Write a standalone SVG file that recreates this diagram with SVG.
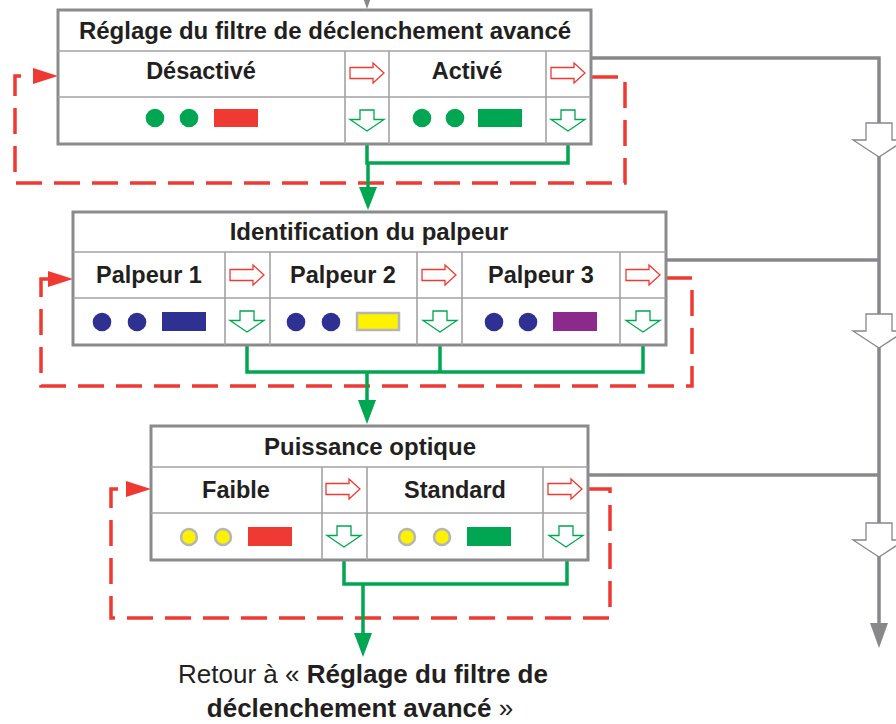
<svg xmlns="http://www.w3.org/2000/svg" width="896" height="724" viewBox="0 0 896 724">
  <style>
    .frame { fill: #ffffff; stroke: #8b8b8e; stroke-width: 3; }
    .grid { stroke: #a3a3a6; stroke-width: 1.6; fill: none; }
    .title { font-family: "Liberation Sans", Arial, sans-serif; font-weight: bold; font-size: 24px; fill: #231f20; text-anchor: middle; }
    .label { font-family: "Liberation Sans", Arial, sans-serif; font-weight: bold; font-size: 23.5px; fill: #231f20; text-anchor: middle; }
    .foot { font-family: "Liberation Sans", Arial, sans-serif; font-size: 26px; fill: #231f20; text-anchor: middle; }
    .foot .b { font-weight: bold; }
    .nextArrow { fill: #ffffff; stroke: #ee3a33; stroke-width: 1.3; stroke-linejoin: miter; }
    .okArrow { fill: #ffffff; stroke: #00a651; stroke-width: 1.3; stroke-linejoin: miter; }
    .green { fill: #00a651; }
    .red { fill: #ee3a33; }
    .blue { fill: #2e3192; }
    .yellowDot { fill: #fff200; stroke: #b5b5b5; stroke-width: 2.5; }
    .yellowBar { fill: #fff200; stroke: #b5b5b5; stroke-width: 2.5; }
    .purple { fill: #8b2a8c; }
    .loop { fill: none; stroke: #ee3a33; stroke-width: 3.5; stroke-dasharray: 26 12; }
    .flow { fill: none; stroke: #00a651; stroke-width: 3.5; }
    .bus { fill: none; stroke: #88888c; stroke-width: 3.5; }
    .busArrow { fill: #ffffff; stroke: #88888c; stroke-width: 1.3; }
  </style>
  <defs>
    <!-- outlined "next" arrow, origin at left-centre -->
    <path id="arrowRight" d="M0,-5.5 H23 V-10 L34,0 L23,10 V5.5 H0 Z"/>
    <!-- outlined "confirm" arrow, origin at top-centre -->
    <path id="arrowDown" d="M-7,0 V9.5 H-17 L0,21 L17,9.5 H7 V0 Z"/>
    <!-- hollow arrow on the side bus, origin at top-centre -->
    <path id="busDown" d="M-13,0 V17 H-26 L0,34 L26,17 H13 V0 Z"/>
  </defs>

  <!-- connectors -->
  <g id="connectors">
    <!-- incoming arrow at the top -->
    <path d="M367,0 V2" class="bus"/>
    <polygon points="361,-8 373,-8 367,9" fill="#88888c"/>

    <!-- side bus with hollow arrows -->
    <path class="bus" d="M592,58 H879 V625"/>
    <path class="bus" d="M666,260 H879"/>
    <path class="bus" d="M588,475 H879"/>
    <polygon points="870,623 888,623 879,648" fill="#88888c"/>
    <use href="#busDown" x="879" y="123" class="busArrow"/>
    <use href="#busDown" x="879" y="314" class="busArrow"/>
    <use href="#busDown" x="879" y="523" class="busArrow"/>

    <!-- dashed return loops -->
    <path class="loop" d="M592,77 H625 V183 H15 V76 H36"/>
    <polygon class="red" points="33,68 58,76 33,84"/>
    <path class="loop" d="M666,278 H692 V386 H41 V279 H50"/>
    <polygon class="red" points="48,271 73,279 48,287"/>
    <path class="loop" d="M588,489 H610 V618 H111 V489 H128"/>
    <polygon class="red" points="126,481 151,489 126,497"/>

    <!-- green flows to the next stage -->
    <path class="flow" d="M367,144 V163 H568 V144"/>
    <path class="flow" d="M368,163 V189"/>
    <polygon class="green" points="359,187 377,187 368,210"/>

    <path class="flow" d="M247,345 V372 H643 V345"/>
    <path class="flow" d="M440,345 V372"/>
    <path class="flow" d="M367,372 V402"/>
    <polygon class="green" points="358,400 376,400 367,424"/>

    <path class="flow" d="M344,560 V584 H567 V560"/>
    <path class="flow" d="M363,584 V635"/>
    <polygon class="green" points="354,633 372,633 363,657"/>
  </g>

  <!-- stage 1 -->
  <g id="stage-filter">
    <rect class="frame" x="58" y="10" width="533" height="134"/>
    <path class="grid" d="M58,51 H591 M58,97 H591 M345,51 V144 M389,51 V144 M546,51 V144"/>
    <text class="title" x="325" y="39">Réglage du filtre de déclenchement avancé</text>
    <text class="label" x="201" y="79">Désactivé</text>
    <text class="label" x="467" y="79">Activé</text>
    <use href="#arrowRight" x="350" y="73" class="nextArrow"/>
    <use href="#arrowRight" x="551" y="73" class="nextArrow"/>
    <use href="#arrowDown" x="367" y="110" class="okArrow"/>
    <use href="#arrowDown" x="568" y="110" class="okArrow"/>
    <circle class="green" cx="155" cy="118" r="9.3"/>
    <circle class="green" cx="189" cy="118" r="9.3"/>
    <rect class="red" x="214" y="109" width="44" height="18"/>
    <circle class="green" cx="422" cy="118" r="9.3"/>
    <circle class="green" cx="455" cy="118" r="9.3"/>
    <rect class="green" x="478" y="109" width="44" height="18"/>
  </g>

  <!-- stage 2 -->
  <g id="stage-probe">
    <rect class="frame" x="73" y="212" width="593" height="133"/>
    <path class="grid" d="M73,252 H666 M73,298 H666 M225,252 V345 M270,252 V345 M417,252 V345 M462,252 V345 M620,252 V345"/>
    <text class="title" x="369" y="240">Identification du palpeur</text>
    <text class="label" x="149" y="283">Palpeur 1</text>
    <text class="label" x="343" y="283">Palpeur 2</text>
    <text class="label" x="541" y="283">Palpeur 3</text>
    <use href="#arrowRight" x="230" y="275" class="nextArrow"/>
    <use href="#arrowRight" x="422" y="275" class="nextArrow"/>
    <use href="#arrowRight" x="626" y="275" class="nextArrow"/>
    <use href="#arrowDown" x="247" y="311" class="okArrow"/>
    <use href="#arrowDown" x="440" y="311" class="okArrow"/>
    <use href="#arrowDown" x="643" y="311" class="okArrow"/>
    <circle class="blue" cx="102" cy="322" r="9.3"/>
    <circle class="blue" cx="137" cy="322" r="9.3"/>
    <rect class="blue" x="162" y="312" width="44" height="19"/>
    <circle class="blue" cx="296" cy="322" r="9.3"/>
    <circle class="blue" cx="331" cy="322" r="9.3"/>
    <rect class="yellowBar" x="357" y="313" width="42" height="17"/>
    <circle class="blue" cx="494" cy="322" r="9.3"/>
    <circle class="blue" cx="528" cy="322" r="9.3"/>
    <rect class="purple" x="553" y="312" width="44" height="19"/>
  </g>

  <!-- stage 3 -->
  <g id="stage-power">
    <rect class="frame" x="151" y="426" width="437" height="134"/>
    <path class="grid" d="M151,467 H588 M151,513 H588 M322,467 V560 M367,467 V560 M543,467 V560"/>
    <text class="title" x="370" y="455">Puissance optique</text>
    <text class="label" x="236" y="498">Faible</text>
    <text class="label" x="455" y="498">Standard</text>
    <use href="#arrowRight" x="326" y="489" class="nextArrow"/>
    <use href="#arrowRight" x="548" y="489" class="nextArrow"/>
    <use href="#arrowDown" x="344" y="526" class="okArrow"/>
    <use href="#arrowDown" x="566" y="526" class="okArrow"/>
    <circle class="yellowDot" cx="189" cy="537" r="8"/>
    <circle class="yellowDot" cx="223" cy="537" r="8"/>
    <rect class="red" x="248" y="527" width="44" height="19"/>
    <circle class="yellowDot" cx="407" cy="537" r="8"/>
    <circle class="yellowDot" cx="442" cy="537" r="8"/>
    <rect class="green" x="467" y="527" width="44" height="19"/>
  </g>

  <!-- return note -->
  <g id="return-note">
    <text class="foot" x="363" y="683">Retour à « <tspan class="b">Réglage du filtre de</tspan></text>
    <text class="foot" x="360" y="717"><tspan class="b">déclenchement avancé</tspan> »</text>
  </g>
</svg>
